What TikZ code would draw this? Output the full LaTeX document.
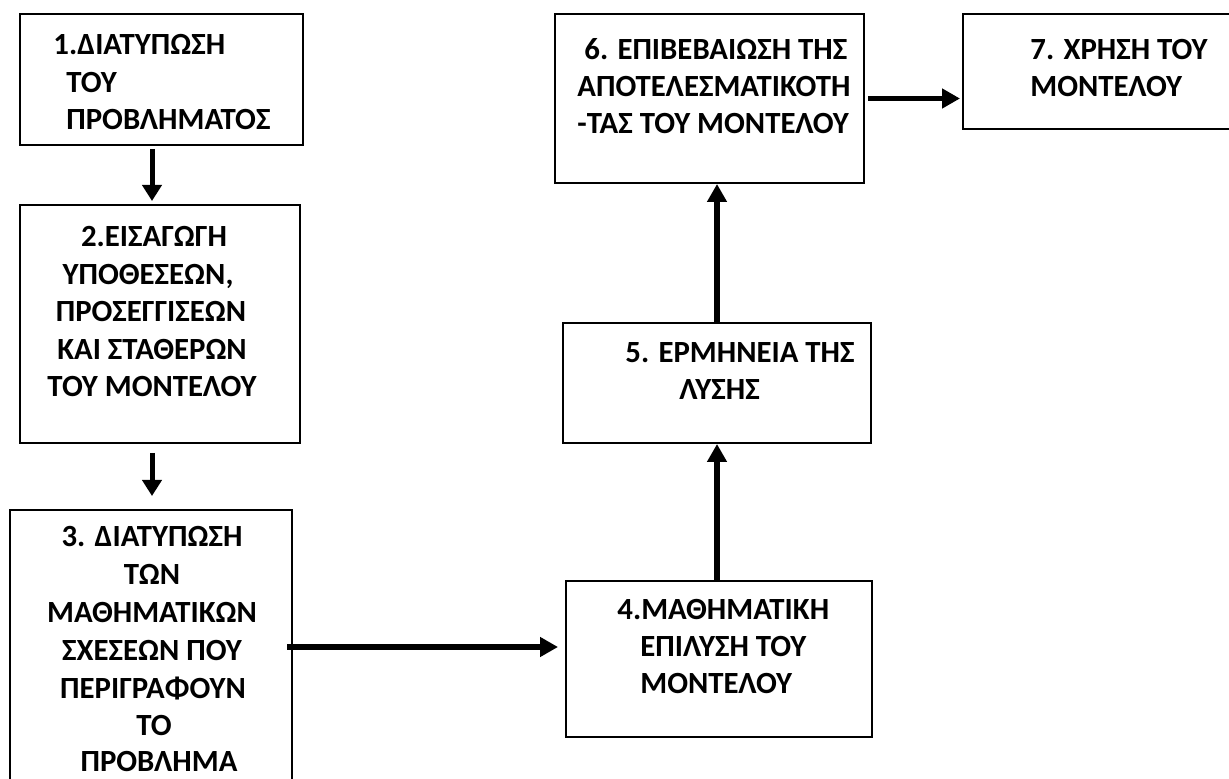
\documentclass[tikz,border=0pt]{standalone}
\usepackage{fontspec}
\setmainfont{Carlito}
\usetikzlibrary{arrows.meta,calc}
\begin{document}
\begin{tikzpicture}[x=0.5pt,y=-0.5pt,
  box/.style={draw,line width=1pt,inner sep=0pt,rectangle},
  txt/.style={inner sep=0pt,font=\fontsize{15.4}{18}\selectfont\bfseries,text height=9.9pt,text depth=0pt},
  lt/.style={txt,anchor=west},
  ct/.style={txt,anchor=center},
  arr/.style={line width=2.9pt,-{Triangle[length=9pt,width=9.5pt]}},
  arrd/.style={line width=2.5pt,-{Triangle[length=8pt,width=9.5pt]}}]
\useasboundingbox (0,0) rectangle (1229,779);
\clip (0,0) rectangle (1229,779);
% boxes
\node[box,minimum width=141.5pt,minimum height=65.5pt] (b1) at (161.5,79.5) {};
\node[box,minimum width=140pt,minimum height=119pt] (b2) at (160,324) {};
\node[box,minimum width=141pt,minimum height=137pt] (b3) at (151,647) {};
\node[box,minimum width=153pt,minimum height=78pt] (b4) at (719,659) {};
\node[box,minimum width=154pt,minimum height=60pt] (b5) at (717,383) {};
\node[box,minimum width=154.5pt,minimum height=84.5pt] (b6) at (709.5,98.5) {};
\node[box,minimum width=138.5pt,minimum height=57.5pt] (b7) at (1101.5,71.5) {};
% texts
\node[lt] (t1a) at (53,45) {1.ΔΙΑΤΥΠΩΣΗ};
\node[lt] (t1b) at (66,82.5) {ΤΟΥ};
\node[lt] (t1c) at (66,120) {ΠΡΟΒΛΗΜΑΤΟΣ};
\node[ct] (t2a) at (154,237) {2.ΕΙΣΑΓΩΓΗ};
\node[ct] (t2b) at (148,274.5) {ΥΠΟΘΕΣΕΩΝ,};
\node[ct] (t2c) at (151,312) {ΠΡΟΣΕΓΓΙΣΕΩΝ};
\node[ct] (t2d) at (152,349.5) {ΚΑΙ ΣΤΑΘΕΡΩΝ};
\node[ct] (t2e) at (152,387) {ΤΟΥ ΜΟΝΤΕΛΟΥ};
\node[ct] (t3a) at (152,537) {3. ΔΙΑΤΥΠΩΣΗ};
\node[ct] (t3b) at (152,575) {ΤΩΝ};
\node[ct] (t3c) at (152,613) {ΜΑΘΗΜΑΤΙΚΩΝ};
\node[ct] (t3d) at (152,651) {ΣΧΕΣΕΩΝ ΠΟΥ};
\node[ct] (t3e) at (153,689) {ΠΕΡΙΓΡΑΦΟΥΝ};
\node[ct] (t3f) at (154,726) {ΤΟ};
\node[ct] (t3g) at (159,762) {ΠΡΟΒΛΗΜΑ};
\node[lt] (t4a) at (617,610) {4.ΜΑΘΗΜΑΤΙΚΗ};
\node[lt] (t4b) at (640,647) {ΕΠΙΛΥΣΗ ΤΟΥ};
\node[lt] (t4c) at (640,684) {ΜΟΝΤΕΛΟΥ};
\node[lt] (t5a) at (625,353) {5. ΕΡΜΗΝΕΙΑ ΤΗΣ};
\node[lt] (t5b) at (679,390) {ΛΥΣΗΣ};
\node[lt] (t6a) at (584,50) {6. ΕΠΙΒΕΒΑΙΩΣΗ ΤΗΣ};
\node[lt] (t6b) at (577,87) {ΑΠΟΤΕΛΕΣΜΑΤΙΚΟΤΗ};
\node[lt] (t6c) at (577,124) {-ΤΑΣ ΤΟΥ ΜΟΝΤΕΛΟΥ};
\node[lt] (t7a) at (1030,50) {7. ΧΡΗΣΗ ΤΟΥ};
\node[lt] (t7b) at (1030,87) {ΜΟΝΤΕΛΟΥ};
% arrows
\draw[arrd] ([xshift=-4.75pt,yshift=-1.5pt]b1.south) -- ([xshift=-4pt,yshift=1.5pt]b2.north);
\draw[arrd] ([xshift=-4pt,yshift=-4.5pt]b2.south) -- ([xshift=0.5pt,yshift=6.5pt]b3.north);
\draw[arr,shorten >=3.5pt] ([xshift=-3pt]b3.east) -- (b3.east -| b4.west);
\draw[arr] ([xshift=-1pt]b4.north) -- (b5.south);
\draw[arr] (b5.north) -- (b5.north |- b6.south);
\draw[arr,shorten >=1pt] ([xshift=1.5pt]b6.east) -- (b6.east -| b7.west);
\end{tikzpicture}
\end{document}
